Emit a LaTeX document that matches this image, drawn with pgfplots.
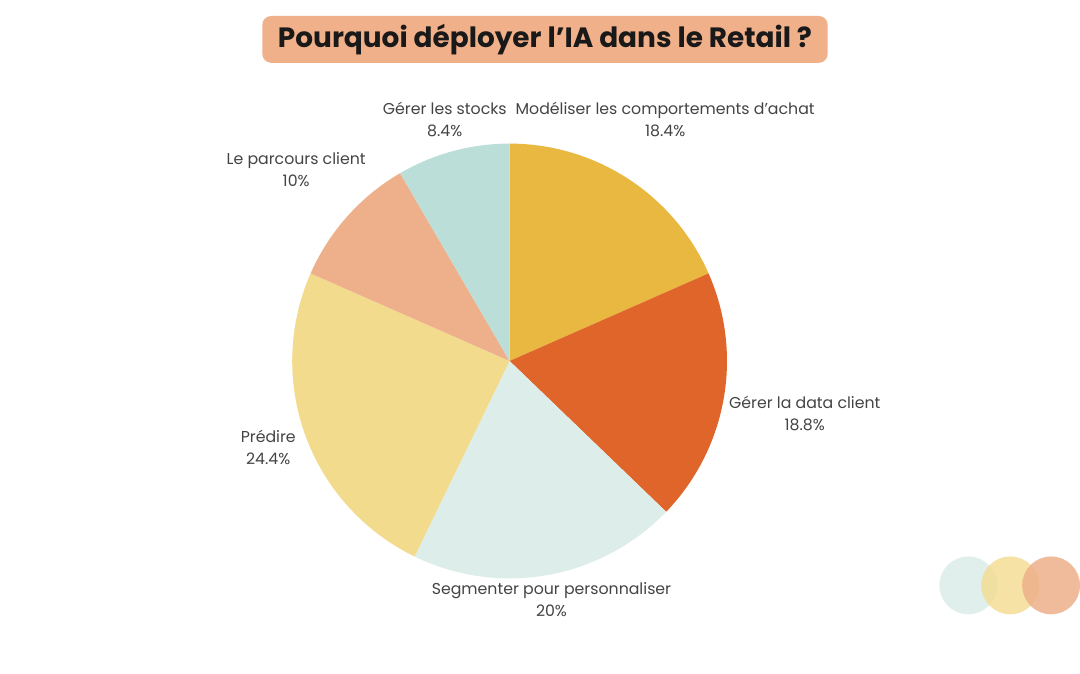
\documentclass[border=0pt]{standalone}
\usepackage{pgfplots}
\pgfplotsset{compat=1.18}
\usepackage{fontspec}
\setmainfont{Poppins}
\definecolor{cA}{HTML}{E8B840}
\definecolor{cB}{HTML}{E0652B}
\definecolor{cC}{HTML}{DDEEEA}
\definecolor{cD}{HTML}{F3DB8E}
\definecolor{cE}{HTML}{EEB08A}
\definecolor{cF}{HTML}{BCDED9}
\definecolor{cT}{HTML}{F0B08A}
\definecolor{txt}{HTML}{444444}
% values (percent), clockwise from 12 o'clock
\def\vA{18.4} % Modeliser les comportements d'achat
\def\vB{18.8} % Gerer la data client
\def\vC{20}   % Segmenter pour personnaliser
\def\vD{24.4} % Predire
\def\vE{10}   % Le parcours client
\def\vF{8.4}  % Gerer les stocks
\begin{document}
\begin{tikzpicture}
\begin{scope}[x=1pt,y=1pt]
\fill[white] (0,0) rectangle (1080,675);
\node[fill=cT, rounded corners=9pt, minimum width=567pt, minimum height=47pt, inner sep=0pt, text=black!90]
  at (546.5,635.5) {\fontsize{28}{32}\selectfont\bfseries Pourquoi déployer l’IA dans le Retail ?};
\end{scope}
\pgfmathsetmacro{\aA}{90-3.6*\vA}
\pgfmathsetmacro{\aB}{\aA-3.6*\vB}
\pgfmathsetmacro{\aC}{\aB-3.6*\vC}
\pgfmathsetmacro{\aD}{\aC-3.6*\vD}
\pgfmathsetmacro{\aE}{\aD-3.6*\vE}
\pgfmathsetmacro{\aF}{\aE-3.6*\vF}
\begin{axis}[at={(511pt,313pt)}, anchor=center, width=436pt, height=436pt, scale only axis,
  xmin=-1, xmax=1, ymin=-1, ymax=1, hide axis, clip=false]
\addplot[fill=cA, draw=none, domain=\aA:90, samples=60] ({cos(x)},{sin(x)}) -- (axis cs:0,0) -- cycle;
\addplot[fill=cB, draw=none, domain=\aB:\aA, samples=60] ({cos(x)},{sin(x)}) -- (axis cs:0,0) -- cycle;
\addplot[fill=cC, draw=none, domain=\aC:\aB, samples=60] ({cos(x)},{sin(x)}) -- (axis cs:0,0) -- cycle;
\addplot[fill=cD, draw=none, domain=\aD:\aC, samples=60] ({cos(x)},{sin(x)}) -- (axis cs:0,0) -- cycle;
\addplot[fill=cE, draw=none, domain=\aE:\aD, samples=60] ({cos(x)},{sin(x)}) -- (axis cs:0,0) -- cycle;
\addplot[fill=cF, draw=none, domain=\aF:\aE, samples=60] ({cos(x)},{sin(x)}) -- (axis cs:0,0) -- cycle;
\end{axis}
\begin{scope}[x=1pt,y=1pt,every node/.style={align=center, text=txt, font=\fontsize{15.8}{22}\selectfont, inner sep=0pt}]
\node at (667,555) {Modéliser les comportements d’achat\\18.4\%};
\node at (446,555) {Gérer les stocks\\8.4\%};
\node at (297,505) {Le parcours client\\10\%};
\node at (807,260) {Gérer la data client\\18.8\%};
\node at (553,74) {Segmenter pour personnaliser\\20\%};
\node at (269,226) {Prédire\\24.4\%};
\fill[cC, opacity=0.9] (971,88) circle (29);
\fill[cD, opacity=0.8] (1013,88) circle (29);
\fill[cE, opacity=0.85] (1054,88) circle (29);
\end{scope}
\end{tikzpicture}
\end{document}
